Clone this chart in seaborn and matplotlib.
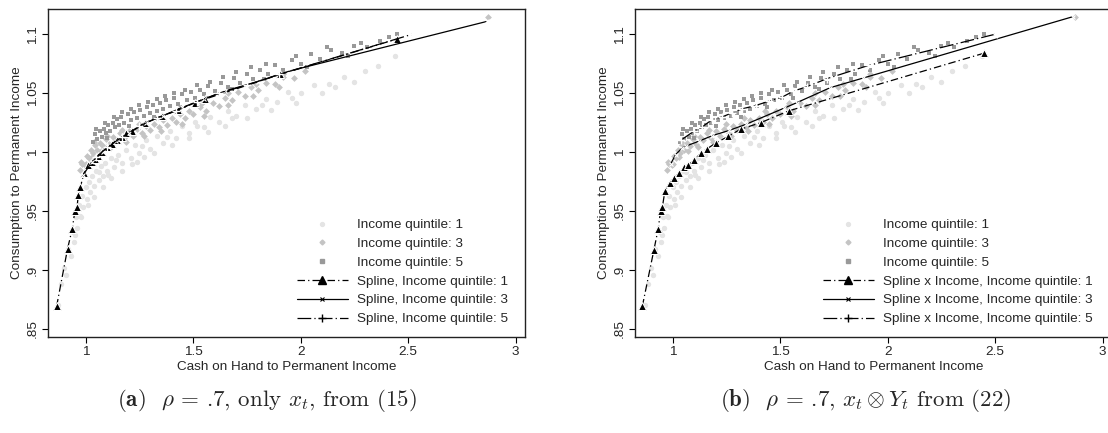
import matplotlib
matplotlib.use("Agg")
import matplotlib.pyplot as plt
import seaborn as sns
from matplotlib.lines import Line2D

# scatter clouds (same simulated households in both panels)
q1_x = [0.87, 0.885, 0.90, 0.91, 0.92, 0.93, 0.94, 0.945, 0.955, 0.96, 0.97, 0.975, 0.985, 0.99,
        1.00, 1.005, 1.015, 1.02, 1.03, 1.04, 1.05, 1.06, 1.07, 1.08, 1.09, 1.10, 1.105, 1.12, 1.13,
        1.15, 1.17, 1.19, 1.21, 1.215, 1.23, 1.25, 1.27, 1.28, 1.30, 1.33, 1.36, 1.39, 1.42, 1.45,
        1.48, 1.51, 1.55, 1.58, 1.62, 1.66, 1.70, 1.74, 1.79, 1.84, 1.89, 1.94, 2.00, 2.06, 2.13,
        2.20, 2.30, 2.44,
        0.95, 0.98, 1.01, 1.04, 1.08, 1.12, 1.17, 1.24, 1.32, 1.40, 1.48, 1.57, 1.65, 1.75, 1.86,
        1.98, 2.10, 2.25, 2.36, 1.06, 1.14, 1.26, 1.38, 1.52, 1.68, 1.82, 1.96, 2.16]
q1_y = [0.870, 0.888, 0.902, 0.896, 0.918, 0.912, 0.932, 0.924, 0.945, 0.936, 0.955, 0.946, 0.963, 0.953,
        0.970, 0.960, 0.975, 0.966, 0.980, 0.971, 0.984, 0.976, 0.988, 0.980, 0.991, 0.984, 0.981, 0.995, 0.987,
        0.998, 0.991, 1.002, 0.995, 0.990, 1.006, 0.999, 0.996, 1.010, 1.003, 1.014, 1.008, 1.018, 1.012, 1.022,
        1.016, 1.026, 1.021, 1.030, 1.026, 1.035, 1.031, 1.040, 1.037, 1.045, 1.043, 1.051, 1.050, 1.057, 1.058,
        1.064, 1.069, 1.082,
        0.930, 0.945, 0.955, 0.962, 0.970, 0.978, 0.984, 0.992, 0.999, 1.006, 1.012, 1.017, 1.022, 1.029, 1.036,
        1.042, 1.050, 1.060, 1.073, 0.983, 0.993, 1.005, 1.013, 1.022, 1.029, 1.040, 1.046, 1.055]

q3_x = [0.975, 0.985, 0.995, 1.005, 1.015, 1.025, 1.035, 1.045, 1.055, 1.065, 1.08, 1.095, 1.11, 1.125,
        1.14, 1.16, 1.18, 1.20, 1.22, 1.24, 1.26, 1.28, 1.30, 1.32, 1.34, 1.36, 1.38, 1.40, 1.42, 1.44,
        1.46, 1.48, 1.50, 1.53, 1.56, 1.59, 1.62, 1.65, 1.68, 1.71, 1.74, 1.77, 1.80, 1.84, 1.88, 1.92,
        1.97, 2.02, 2.87,
        1.00, 1.03, 1.07, 1.12, 1.19, 1.27, 1.35, 1.45, 1.55, 1.66, 1.78, 1.90,
        0.98, 1.04, 1.10, 1.17, 1.25, 1.33, 1.43, 1.54, 1.66, 1.79, 1.92]
q3_y = [0.985, 0.990, 0.989, 0.997, 0.995, 1.002, 0.999, 1.006, 1.002, 1.008, 1.005, 1.011, 1.007, 1.013,
        1.010, 1.016, 1.012, 1.018, 1.014, 1.020, 1.016, 1.022, 1.019, 1.024, 1.021, 1.027, 1.023, 1.029, 1.026, 1.032,
        1.029, 1.035, 1.032, 1.038, 1.035, 1.042, 1.039, 1.046, 1.044, 1.051, 1.048, 1.055, 1.053, 1.059, 1.058, 1.064,
        1.063, 1.069, 1.115,
        0.990, 0.996, 1.001, 1.004, 1.009, 1.014, 1.018, 1.024, 1.031, 1.040, 1.048, 1.055,
        0.992, 1.009, 1.014, 1.019, 1.024, 1.029, 1.035, 1.042, 1.050, 1.058, 1.066]

q5_x = [1.035, 1.045, 1.055, 1.065, 1.075, 1.085, 1.095, 1.105, 1.115, 1.125, 1.135, 1.145, 1.155, 1.165,
        1.18, 1.195, 1.21, 1.225, 1.24, 1.255, 1.27, 1.285, 1.30, 1.315, 1.33, 1.345, 1.36, 1.375, 1.39,
        1.41, 1.43, 1.45, 1.47, 1.49, 1.51, 1.53, 1.55, 1.57, 1.60, 1.63, 1.66, 1.69, 1.72, 1.75, 1.78,
        1.81, 1.85, 1.88, 1.92, 1.96, 2.00, 2.05, 2.09, 2.14, 2.19, 2.25, 2.31, 2.37, 2.45,
        1.05, 1.09, 1.13, 1.17, 1.21, 1.25, 1.29, 1.33, 1.37, 1.41, 1.46, 1.52, 1.58, 1.64, 1.70, 1.77,
        1.84, 1.98, 2.12, 2.28, 2.41, 1.10, 1.20, 1.32, 1.44, 1.56, 1.68, 1.83, 2.03, 2.22]
q5_y = [1.009, 1.015, 1.011, 1.018, 1.013, 1.020, 1.016, 1.023, 1.018, 1.025, 1.021, 1.028, 1.023, 1.030,
        1.025, 1.032, 1.027, 1.034, 1.029, 1.036, 1.031, 1.038, 1.033, 1.040, 1.035, 1.042, 1.037, 1.044, 1.039,
        1.046, 1.041, 1.049, 1.044, 1.051, 1.046, 1.053, 1.049, 1.056, 1.052, 1.059, 1.055, 1.063, 1.059, 1.066, 1.062,
        1.070, 1.066, 1.074, 1.070, 1.078, 1.075, 1.083, 1.079, 1.087, 1.084, 1.090, 1.089, 1.094, 1.100,
        1.020, 1.025, 1.030, 1.034, 1.037, 1.040, 1.043, 1.045, 1.048, 1.050, 1.053, 1.057, 1.060, 1.064, 1.068, 1.072,
        1.075, 1.082, 1.089, 1.093, 1.098, 1.012, 1.022, 1.030, 1.038, 1.046, 1.054, 1.062, 1.072, 1.082]

# panel (a): spline in x_t only
a_q1_x = [0.865, 0.916, 0.938, 0.950, 0.960, 0.966, 0.975, 0.992, 1.009, 1.028, 1.043, 1.059, 1.077,
          1.098, 1.121, 1.144, 1.167, 1.19, 1.217, 1.276, 1.353, 1.431, 1.508, 1.555, 1.904, 2.446]
a_q1_y = [0.869, 0.918, 0.935, 0.950, 0.953, 0.964, 0.970, 0.982, 0.989, 0.992, 0.994, 0.997, 1.000,
          1.004, 1.007, 1.010, 1.013, 1.016, 1.018, 1.025, 1.0305, 1.036, 1.042, 1.045, 1.066, 1.096]
a_q3_x = [0.99, 1.03, 1.08, 1.14, 1.20, 1.28, 1.36, 1.45, 1.55, 1.65, 1.80, 1.95, 2.865]
a_q3_y = [0.981, 0.992, 1.000, 1.0095, 1.016, 1.025, 1.031, 1.038, 1.045, 1.052, 1.060, 1.069, 1.111]
a_q5_x = [1.05, 1.10, 1.17, 1.25, 1.33, 1.42, 1.52, 1.62, 1.75, 1.90, 2.516]
a_q5_y = [0.996, 1.004, 1.013, 1.022, 1.029, 1.035, 1.043, 1.050, 1.057, 1.066, 1.100]

# panel (b): spline interacted with income
b_q1_x = [0.859, 0.913, 0.933, 0.944, 0.952, 0.964, 0.986, 1.006, 1.029, 1.053, 1.073, 1.099, 1.130,
          1.161, 1.203, 1.259, 1.316, 1.409, 1.539, 2.447]
b_q1_y = [0.869, 0.917, 0.935, 0.950, 0.953, 0.967, 0.974, 0.978, 0.982, 0.987, 0.989, 0.993, 0.999,
          1.003, 1.008, 1.0135, 1.0195, 1.025, 1.035, 1.084]
b_q3_x = [0.991, 1.014, 1.045, 1.06, 1.122, 1.184, 1.262, 1.339, 1.52, 1.577, 1.732, 1.887, 2.860]
b_q3_y = [0.990, 0.998, 1.0037, 1.0050, 1.0093, 1.014, 1.0184, 1.0235, 1.0375, 1.042, 1.0547, 1.063, 1.115]
b_q5_x = [1.041, 1.099, 1.138, 1.184, 1.231, 1.277, 1.324, 1.386, 1.448, 1.51, 1.561, 1.623, 1.716, 1.91, 2.51]
b_q5_y = [1.0105, 1.0178, 1.0215, 1.0277, 1.030, 1.0334, 1.0368, 1.0396, 1.0433, 1.0468, 1.0518, 1.0555,
          1.0623, 1.0736, 1.1006]

xticks = [1, 1.5, 2, 2.5, 3]
xtick_labels = ["1", "1.5", "2", "2.5", "3"]
yticks = [0.85, 0.9, 0.95, 1.0, 1.05, 1.1]
ytick_labels = [".85", ".9", ".95", "1", "1.05", "1.1"]

sns.set_style("white")
plt.rcParams['font.family'] = ['Liberation Sans', 'DejaVu Sans']
plt.rcParams['mathtext.fontset'] = 'cm'
FS = 9.7

c_q1, c_q3, c_q5 = '#e4e4e4', '#c4c4c4', '#999999'
ls_q1 = (0, (6, 2.5, 1, 2.5))
ls_q5 = (0, (11, 2.5, 1, 2.5))
styles = [
    dict(linestyle=ls_q1, marker='^', markersize=5.5),
    dict(linestyle='-', marker='x', markersize=2.2, markeredgewidth=0.8),
    dict(linestyle=ls_q5, marker='+', markersize=5.5, markeredgewidth=1.0),
]

W, H = 1108.0, 433.0
fig = plt.figure(figsize=(W / 100, H / 100), dpi=100)


def draw_panel(ax, lines, prefix, leg_x):
    sns.scatterplot(x=q1_x, y=q1_y, ax=ax, color=c_q1, marker='o', s=15, linewidth=0)
    sns.scatterplot(x=q3_x, y=q3_y, ax=ax, color=c_q3, marker='D', s=12, linewidth=0)
    sns.scatterplot(x=q5_x, y=q5_y, ax=ax, color=c_q5, marker='s', s=12, linewidth=0)
    for (lx, ly), st in zip(lines, styles):
        sns.lineplot(x=lx, y=ly, ax=ax, color='black', lw=0.9, estimator=None, sort=False, **st)

    ax.set_xlim(0.825, 3.043)
    ax.set_ylim(0.843, 1.122)
    ax.set_xticks(xticks)
    ax.set_xticklabels(xtick_labels, fontsize=FS)
    ax.set_yticks(yticks)
    ax.set_yticklabels(ytick_labels, fontsize=FS, rotation=90, va='center')
    ax.tick_params(axis='both', direction='out', length=4, width=0.8, color='black', pad=2.5,
                   left=True, bottom=True, top=False, right=False)
    for sp in ax.spines.values():
        sp.set_color('#222222')
        sp.set_linewidth(1.0)
    ax.set_xlabel("Cash on Hand to Permanent Income", fontsize=FS)
    ax.set_ylabel("Consumption to Permanent Income", fontsize=FS)
    ax.xaxis.set_label_coords(0.5, -0.074)
    ax.yaxis.set_label_coords(-0.052, 0.5)

    handles = [
        Line2D([], [], linestyle='none', marker='o', markersize=2.8, color=c_q1),
        Line2D([], [], linestyle='none', marker='D', markersize=2.5, color=c_q3),
        Line2D([], [], linestyle='none', marker='s', markersize=2.6, color=c_q5),
    ] + [Line2D([], [], color='black', lw=0.9, **st) for st in styles]
    labels = ["Income quintile: 1", "Income quintile: 3", "Income quintile: 5"] + \
             [prefix + "Income quintile: %d" % q for q in (1, 3, 5)]
    fig.legend(handles, labels, loc='upper left', bbox_to_anchor=(leg_x / W, 1 - 219 / H),
               frameon=False, fontsize=FS, handlelength=3.78, handletextpad=0.67,
               labelspacing=0.47, borderpad=0, borderaxespad=0, markerscale=1, numpoints=1)


ax_a = fig.add_axes([48 / W, 1 - 337 / H, 477 / W, 328.5 / H])
ax_b = fig.add_axes([635 / W, 1 - 337 / H, 477 / W, 328.5 / H])

draw_panel(ax_a, [(a_q1_x, a_q1_y), (a_q3_x, a_q3_y), (a_q5_x, a_q5_y)], "Spline, ", 297)
draw_panel(ax_b, [(b_q1_x, b_q1_y), (b_q3_x, b_q3_y), (b_q5_x, b_q5_y)], "Spline x Income, ", 823)

# captions set in Computer Modern, as in the paper
fig.text(267 / W, 1 - 401 / H, r"$\mathbf{(a)}$  $\rho$ = .7, only $x_t$, from (15)",
         ha='center', va='center', fontsize=16.5, family='cmr10')
fig.text(866 / W, 1 - 401 / H, r"$\mathbf{(b)}$  $\rho$ = .7, $x_t \otimes Y_t$ from (22)",
         ha='center', va='center', fontsize=16.5, family='cmr10')

fig.savefig("out.png", dpi=100)
